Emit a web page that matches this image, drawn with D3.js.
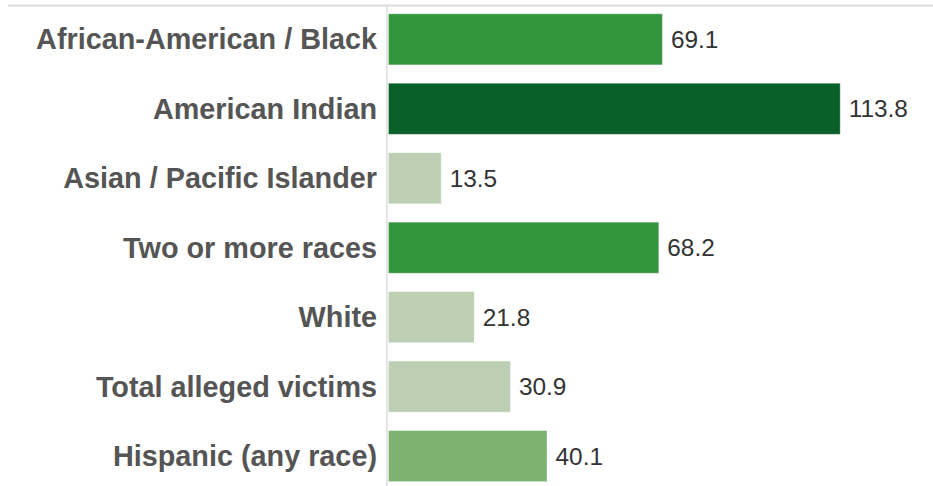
<!DOCTYPE html>
<html>
<head>
<meta charset="utf-8">
<script src="https://cdn.jsdelivr.net/npm/d3@7"></script>
<style>
  html, body { margin: 0; padding: 0; background: #fff; }
  svg { display: block; }
</style>
</head>
<body>
<svg id="chart" width="933" height="486"></svg>
<script>
// Rate of alleged victims by race / ethnicity
const categories = [
  "African-American / Black",
  "American Indian",
  "Asian / Pacific Islander",
  "Two or more races",
  "White",
  "Total alleged victims",
  "Hispanic (any race)"
];
const rates = [69.1, 113.8, 13.5, 68.2, 21.8, 30.9, 40.1];

const data = categories.map((c, i) => ({ category: c, rate: rates[i] }));

const W = 933, H = 486;
const axisX = 388;

const svg = d3.select("#chart");

const x = d3.scaleLinear().domain([0, 137]).range([axisX, W]);
const y = d3.scaleBand()
  .domain(categories)
  .range([4.6, 490.8])
  .paddingInner(0.25)
  .paddingOuter(0.125);

// Shade bars by rate band
const color = d3.scaleThreshold()
  .domain([35, 50, 100])
  .range(["#bccfb3", "#7db270", "#34953f", "#0a6029"]);

// Frame lines: top rule and category axis
svg.append("line")
  .attr("x1", 8).attr("x2", W)
  .attr("y1", 5.5).attr("y2", 5.5)
  .attr("stroke", "#dcdcdc").attr("stroke-width", 2);

svg.append("line")
  .attr("x1", axisX - 1).attr("x2", axisX - 1)
  .attr("y1", 6).attr("y2", H)
  .attr("stroke", "#dcdcdc").attr("stroke-width", 1.5);

// Bars
svg.append("g")
  .selectAll("rect")
  .data(data)
  .join("rect")
  .attr("x", x(0) + 0.5)
  .attr("y", d => y(d.category) + 0.5)
  .attr("width", d => x(d.rate) - x(0) - 1)
  .attr("height", y.bandwidth() - 1)
  .attr("fill", d => color(d.rate))
  .attr("stroke", "rgba(255,255,255,0.35)")
  .attr("stroke-width", 1);

// Category labels
svg.append("g")
  .selectAll("text")
  .data(data)
  .join("text")
  .attr("x", axisX - 11)
  .attr("y", d => y(d.category) + y.bandwidth() / 2)
  .attr("dy", "0.35em")
  .attr("text-anchor", "end")
  .attr("font-family", "'Liberation Sans', Arial, sans-serif")
  .attr("font-weight", "bold")
  .attr("font-size", 28.8)
  .attr("fill", "#555")
  .text(d => d.category);

// Value labels
svg.append("g")
  .selectAll("text")
  .data(data)
  .join("text")
  .attr("x", d => x(d.rate) + 8)
  .attr("y", d => y(d.category) + y.bandwidth() / 2)
  .attr("dy", "0.35em")
  .attr("font-family", "'Liberation Sans', Arial, sans-serif")
  .attr("font-size", 24.4)
  .attr("fill", "#333")
  .text(d => d3.format(".1f")(d.rate));
</script>
</body>
</html>
